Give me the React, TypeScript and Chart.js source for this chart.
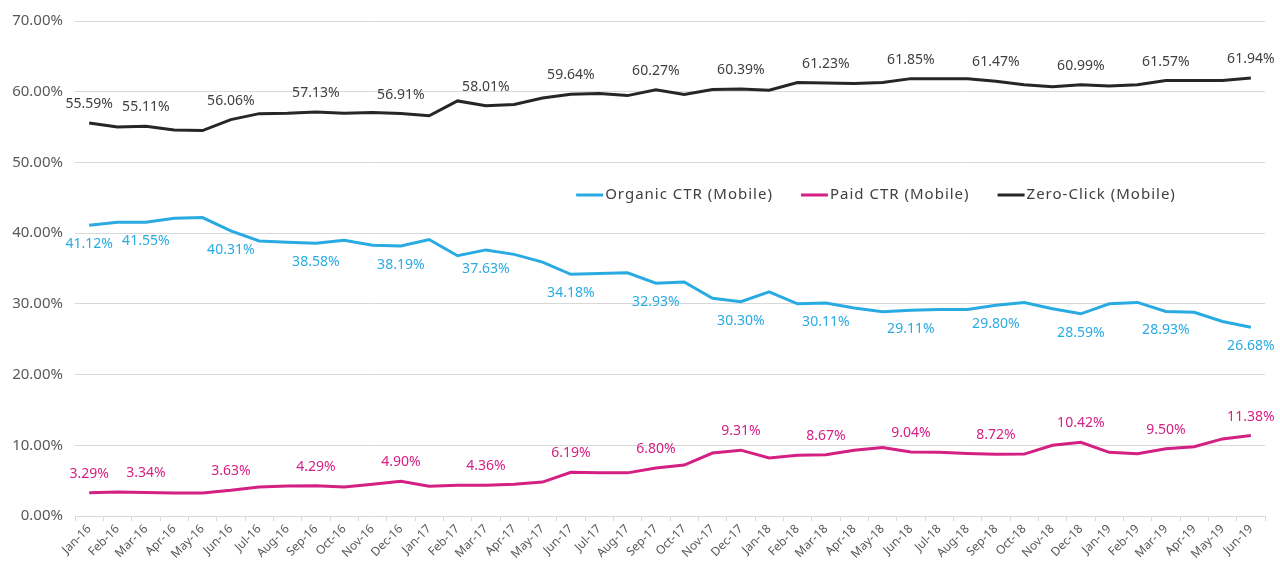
import React, { useEffect, useRef } from 'react';
import { Chart, registerables } from 'chart.js';

Chart.register(...registerables);

const categories = [
  'Jan-16', 'Feb-16', 'Mar-16', 'Apr-16', 'May-16', 'Jun-16', 'Jul-16', 'Aug-16', 'Sep-16', 'Oct-16', 'Nov-16', 'Dec-16',
  'Jan-17', 'Feb-17', 'Mar-17', 'Apr-17', 'May-17', 'Jun-17', 'Jul-17', 'Aug-17', 'Sep-17', 'Oct-17', 'Nov-17', 'Dec-17',
  'Jan-18', 'Feb-18', 'Mar-18', 'Apr-18', 'May-18', 'Jun-18', 'Jul-18', 'Aug-18', 'Sep-18', 'Oct-18', 'Nov-18', 'Dec-18',
  'Jan-19', 'Feb-19', 'Mar-19', 'Apr-19', 'May-19', 'Jun-19',
];

const organicCTR = [
  41.12, 41.55, 41.55, 42.1, 42.2, 40.31, 38.9, 38.7, 38.58, 39.0, 38.3, 38.19,
  39.1, 36.8, 37.63, 37.0, 35.9, 34.18, 34.3, 34.4, 32.93, 33.1, 30.8, 30.30,
  31.7, 30.0, 30.11, 29.4, 28.9, 29.11, 29.2, 29.2, 29.80, 30.2, 29.3, 28.59,
  30.0, 30.2, 28.93, 28.8, 27.5, 26.68,
];

const paidCTR = [
  3.29, 3.38, 3.34, 3.25, 3.25, 3.63, 4.1, 4.25, 4.29, 4.1, 4.5, 4.90,
  4.2, 4.35, 4.36, 4.5, 4.8, 6.19, 6.1, 6.1, 6.80, 7.2, 8.9, 9.31,
  8.2, 8.6, 8.67, 9.3, 9.7, 9.04, 9.0, 8.85, 8.72, 8.75, 10.0, 10.42,
  9.0, 8.8, 9.50, 9.8, 10.9, 11.38,
];

const zeroClick = [
  55.59, 55.0, 55.11, 54.6, 54.5, 56.06, 56.9, 56.95, 57.13, 56.95, 57.05, 56.91,
  56.6, 58.7, 58.01, 58.2, 59.1, 59.64, 59.75, 59.45, 60.27, 59.6, 60.3, 60.39,
  60.2, 61.3, 61.23, 61.15, 61.3, 61.85, 61.85, 61.85, 61.47, 61.0, 60.7, 60.99,
  60.8, 61.0, 61.57, 61.6, 61.6, 61.94,
];

const labelledIndices = [0, 2, 5, 8, 11, 14, 17, 20, 23, 26, 29, 32, 35, 38, 41];

const seriesNames = ['Organic CTR (Mobile)', 'Paid CTR (Mobile)', 'Zero-Click (Mobile)'];
const seriesColors = ['#29ABE2', '#D41F83', '#262626'];
const labelColors = ['#29ABE2', '#D41F83', '#404040'];
const labelPlacement = ['below', 'above', 'above'];

const FONT = "'Noto Sans', 'DejaVu Sans', sans-serif";

const dataLabelPlugin = {
  id: 'dataLabels',
  afterDatasetsDraw(chart: any) {
    const ctx = chart.ctx;
    ctx.save();
    ctx.font = `14px ${FONT}`;
    ctx.textAlign = 'center';
    ctx.textBaseline = 'middle';
    chart.data.datasets.forEach((ds: any, di: number) => {
      const meta = chart.getDatasetMeta(di);
      ctx.fillStyle = labelColors[di];
      labelledIndices.forEach((idx) => {
        const pt = meta.data[idx];
        if (!pt) return;
        const v = ds.data[idx] as number;
        const off = labelPlacement[di] === 'below' ? 19 : -19;
        ctx.fillText(v.toFixed(2) + '%', pt.x, pt.y + off);
      });
    });
    ctx.restore();
  },
};

const legendPlugin = {
  id: 'innerLegend',
  afterDraw(chart: any) {
    const ctx = chart.ctx;
    ctx.save();
    ctx.font = `15px ${FONT}`;
    try { (ctx as any).letterSpacing = '1px'; } catch (e) { /* ignore */ }
    ctx.textBaseline = 'middle';
    ctx.textAlign = 'left';
    const swatch = 27;
    const gap = 2;
    const itemGap = 28;
    const widths = seriesNames.map((n) => swatch + gap + ctx.measureText(n).width);
    const total = widths.reduce((a, b) => a + b, 0) + itemGap * (seriesNames.length - 1);
    const centerX = 876;
    const y = 195;
    let x = centerX - total / 2;
    seriesNames.forEach((n, i) => {
      ctx.strokeStyle = seriesColors[i];
      ctx.lineWidth = 3;
      ctx.beginPath();
      ctx.moveTo(x, y);
      ctx.lineTo(x + swatch, y);
      ctx.stroke();
      ctx.fillStyle = '#404040';
      ctx.fillText(n, x + swatch + gap, y);
      x += widths[i] + itemGap;
    });
    ctx.restore();
  },
};

export default function App() {
  const canvasRef = useRef<HTMLCanvasElement | null>(null);

  useEffect(() => {
    if (!canvasRef.current) return;
    Chart.defaults.font.family = FONT;
    const chart = new Chart(canvasRef.current, {
      type: 'line',
      data: {
        labels: categories,
        datasets: [organicCTR, paidCTR, zeroClick].map((d, i) => ({
          label: seriesNames[i],
          data: d,
          borderColor: seriesColors[i],
          backgroundColor: seriesColors[i],
          borderWidth: 3,
          pointRadius: 0,
          tension: 0,
          fill: false,
        })),
      },
      options: {
        animation: false,
        responsive: true,
        maintainAspectRatio: false,
        layout: { padding: { top: 19, right: 15, left: 0, bottom: 0 } },
        plugins: {
          legend: { display: false },
          tooltip: { enabled: false },
        },
        scales: {
          x: {
            type: 'category',
            offset: true,
            grid: {
              offset: true,
              drawOnChartArea: false,
              drawTicks: true,
              tickLength: 5,
              color: '#d9d9d9',
            },
            border: { display: true, color: '#d9d9d9', width: 1 },
            ticks: {
              autoSkip: false,
              maxRotation: 45,
              minRotation: 45,
              padding: 1,
              color: '#595959',
              font: { size: 12, family: FONT },
            },
            afterFit(scale: any) {
              scale.height = 63;
            },
          },
          y: {
            min: 0,
            max: 70,
            grid: { color: '#d9d9d9', drawTicks: false },
            border: { display: false },
            ticks: {
              stepSize: 10,
              padding: 12,
              color: '#595959',
              font: { size: 15, family: FONT },
              callback: (v: any) => Number(v).toFixed(2) + '%',
            },
            afterFit(scale: any) {
              scale.width = 75;
            },
          },
        },
      },
      plugins: [dataLabelPlugin, legendPlugin],
    });
    return () => chart.destroy();
  }, []);

  return (
    <div style={{ position: 'absolute', left: 0, top: 0, width: 1280, height: 579, background: '#fff' }}>
      <canvas ref={canvasRef} />
    </div>
  );
}
